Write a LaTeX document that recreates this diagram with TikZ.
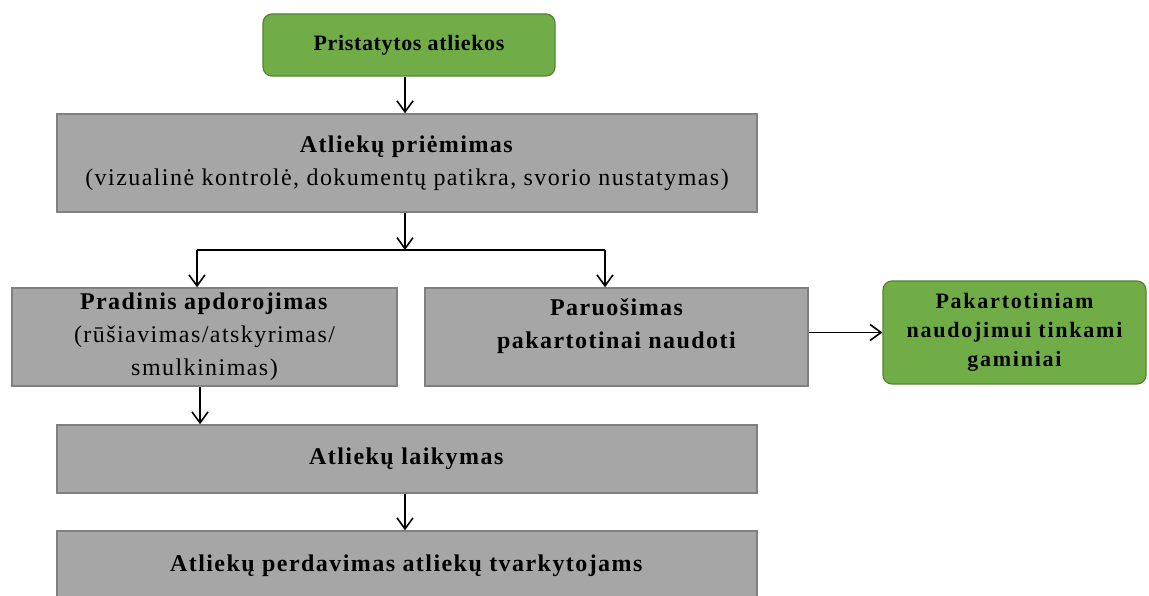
\documentclass[tikz,border=0pt]{standalone}
\usepackage{fontspec}
\setmainfont{Liberation Serif}
\usetikzlibrary{arrows.meta}
\definecolor{boxgray}{RGB}{166,166,166}
\definecolor{boxgrayline}{RGB}{128,128,128}
\definecolor{boxgreen}{RGB}{112,173,71}
\definecolor{boxgreenline}{RGB}{84,130,53}
\tikzset{
  graybox/.style={draw=boxgrayline, fill=boxgray, line width=1.5pt, align=center, inner sep=0pt,
    font=\fontsize{24}{33}\selectfont\addfontfeature{LetterSpace=6}},
  greenbox/.style={draw=boxgreenline, fill=boxgreen, line width=1.2pt, rounded corners=9pt, align=center,
    inner sep=0pt, font=\fontsize{22}{29}\selectfont\bfseries\addfontfeature{LetterSpace=8}},
  plain/.style={align=center, inner sep=0pt, font=\fontsize{24}{33}\selectfont\bfseries\addfontfeature{LetterSpace=6}},
  arr/.style={draw=black, line width=1.6pt, -{Straight Barb[length=11pt,width=16pt,line width=1.6pt]}},
  conn/.style={draw=black, line width=1.6pt},
}
\begin{document}
\begin{tikzpicture}[x=1pt,y=-1pt]
\useasboundingbox (0,0) rectangle (1149,596);
\node[greenbox, minimum width=292pt, minimum height=62pt,
  font=\fontsize{22}{29}\selectfont\bfseries\addfontfeature{LetterSpace=3}] (start) at (409,45) {Pristatytos atliekos};
\node[graybox, minimum width=700pt, minimum height=98pt] (prie) at (407,163)
  {\textbf{Atliekų priėmimas}\\(vizualinė kontrolė, dokumentų patikra, svorio nustatymas)};
\node[graybox, minimum width=385pt, minimum height=98pt] (prad) at (204.5,337)
  {\textbf{Pradinis apdorojimas}\\(rūšiavimas/atskyrimas/\\smulkinimas)};
\node[graybox, minimum width=383pt, minimum height=98pt] (paru) at (616.5,337) {};
\node[plain] (parutext) at (616.5,326) {Paruošimas\\pakartotinai naudoti};
\node[greenbox, minimum width=263pt, minimum height=103pt] (reuse) at (1014.5,332.5)
  {Pakartotiniam\\naudojimui tinkami\\gaminiai};
\node[graybox, minimum width=700pt, minimum height=68pt] (laik) at (407,459) {\textbf{Atliekų laikymas}};
\node[graybox, minimum width=700pt, minimum height=70pt] (perd) at (407,566)
  {\textbf{Atliekų perdavimas atliekų tvarkytojams}};
\coordinate (j) at (405,250);
\coordinate (jl) at (197,250);
\coordinate (jr) at (605,250);
\coordinate (d) at (200,400);
\draw[arr] (start.south -| j) -- (prie.north -| j);
\draw[arr] (prie.south -| j) -- (j);
\draw[conn] (jl) -- (jr);
\draw[arr] (jl) -- (jl |- prad.north);
\draw[arr] (jr) -- (jr |- paru.north);
\draw[arr] (paru.east |- reuse.west) -- (reuse.west);
\draw[arr] (prad.south -| d) -- (laik.north -| d);
\draw[arr] (laik.south -| j) -- (perd.north -| j);
\end{tikzpicture}
\end{document}
